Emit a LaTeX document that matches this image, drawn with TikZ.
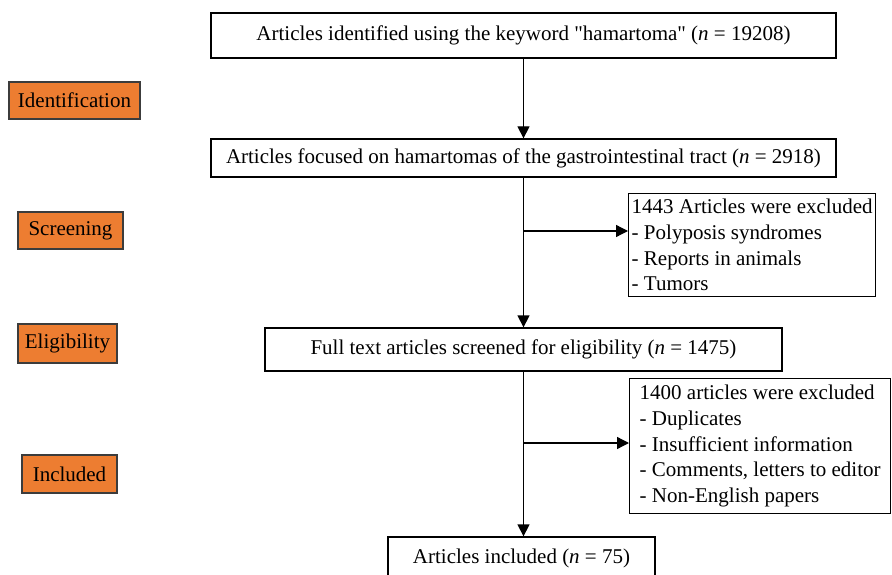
\documentclass[tikz,border=0pt]{standalone}
\usepackage{fontspec}
\setmainfont{Liberation Serif}[Ligatures=TeXOff]
\usetikzlibrary{arrows.meta}
\definecolor{morange}{RGB}{237,125,49}
\definecolor{mgray}{RGB}{60,60,60}
\tikzset{box/.style = {draw, line width=1.3pt, inner sep=0pt,
                       font=\fontsize{21}{25}\selectfont},
         stage/.style = {box, fill=morange, draw=mgray, minimum height=37pt},
         excl/.style = {box, anchor=north west, align=left,
                        font=\fontsize{21}{25.7}\selectfont},
         flow/.style = {line width=1.3pt, -{Triangle[width=12pt,length=12pt]}}}

\begin{document}
\begin{tikzpicture}[x=1pt, y=-1pt]
  \useasboundingbox (0,0) rectangle (892,575);
  \clip (0,0) rectangle (892,575);
  % stages
  \node [stage, minimum width=131pt] (ident) at (74.5,100.5) {Identification};
  \node [stage, minimum width=105pt] (screen) at (70.5,230.5) {Screening};
  \node [stage, minimum width=99pt, minimum height=39pt] (elig) at (67.5,343.5) {Eligibility};
  \node [stage, minimum width=95pt, minimum height=38pt] (inc) at (69.5,474) {Included};
  % main flow
  \node [box, minimum width=625pt, minimum height=45pt] (found) at (523.5,35.5)
        {Articles identified using the keyword "hamartoma" (\textit{n} = 19208)};
  \node [box, minimum width=625pt, minimum height=38pt] (gastro) at (523.5,158)
        {Articles focused on hamartomas of the gastrointestinal tract (\textit{n} = 2918)};
  \node [box, minimum width=517pt, minimum height=43pt] (full) at (523.5,349.5)
        {Full text articles screened for eligibility (\textit{n} = 1475)};
  \node [box, minimum width=267pt, minimum height=42pt] (incl) at (521.5,558)
        {Articles included (\textit{n} = 75)};
  % exclusions
  \node [excl, minimum width=247pt, minimum height=103pt] (excl1) at (628,193)
        {1443 Articles were excluded\\- Polyposis syndromes\\- Reports in animals\\- Tumors};
  \node [excl, minimum width=261pt, minimum height=135pt] (excl2) at (629,378)
        {1400 articles were excluded\\- Duplicates\\- Insufficient information\\%
         - Comments, letters to editor\\- Non-English papers};
  \coordinate (split1) at (523.5,231);
  \coordinate (split2) at (523.5,443);
  \draw [flow] (found) -- (gastro);
  \draw [flow] (gastro) -- (full);
  \draw [flow] (full.south) -- (full.south |- incl.north);
  \draw [flow] (split1) -- (split1 -| excl1.west);
  \draw [flow] (split2) -- (split2 -| excl2.west);
\end{tikzpicture}
\end{document}
